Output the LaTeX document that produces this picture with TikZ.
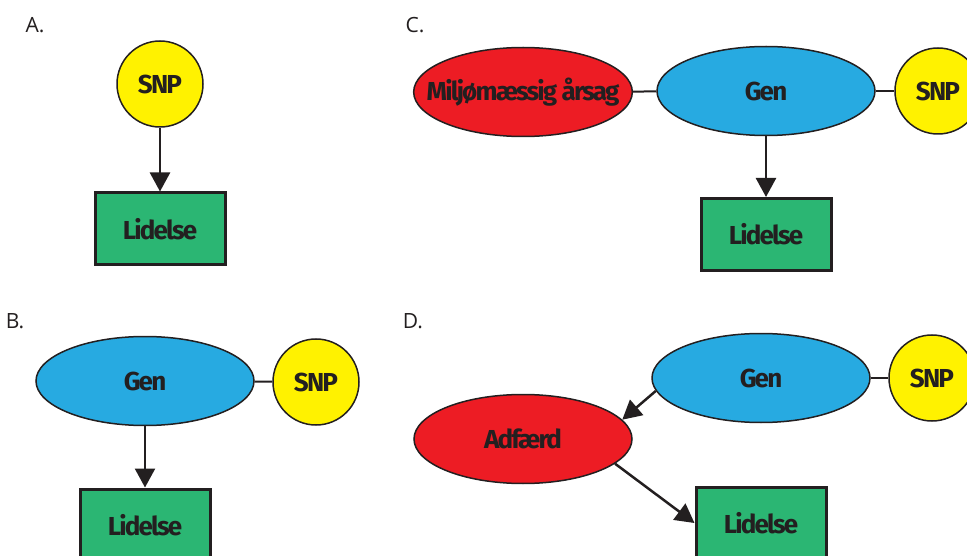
\documentclass[tikz,border=0pt]{standalone}
\usepackage{fontspec}
\usetikzlibrary{shapes.geometric, arrows.meta}
\newfontfamily\boxfont{Fira Sans}[LetterSpace=-7]
\newfontfamily\panelfont{Open Sans}
\definecolor{inkc}{HTML}{231F20}
\definecolor{snpyellow}{HTML}{FFF200}
\definecolor{genblue}{HTML}{27AAE1}
\definecolor{envred}{HTML}{ED1C24}
\definecolor{disgreen}{HTML}{2BB673}
\begin{document}
\begin{tikzpicture}[x=1pt, y=-1pt,
  every node/.style={text=inkc, font=\boxfont\bfseries\fontsize{26}{30}\selectfont},
  snpnode/.style={circle, draw=inkc, line width=1.5pt, fill=snpyellow, minimum size=86pt, inner sep=0pt},
  gennode/.style={ellipse, draw=inkc, line width=1.5pt, fill=genblue, minimum width=218pt, minimum height=89pt, inner sep=0pt},
  envnode/.style={gennode, fill=envred},
  disbox/.style={rectangle, draw=inkc, line width=3pt, fill=disgreen, minimum width=130pt, minimum height=72pt},
  causal/.style={draw=inkc, line width=2.5pt, -{Triangle[width=20pt, length=19pt]}},
  assoc/.style={draw=inkc, line width=2pt},
  panel/.style={font=\panelfont\fontsize{21}{24}\selectfont}]
\useasboundingbox (0,0) rectangle (967,556);

% A.
\node[panel] (labA) at (35,25) {A.};
\node[snpnode] (snpA) at (160,84) {SNP};
\node[disbox] (disA) at (160,229) {Lidelse};
\draw[causal] (snpA) -- (disA);

% B.
\node[panel] (labB) at (15,321) {B.};
\node[gennode] (genB) at (145,381) {Gen};
\node[snpnode] (snpB) at (316,382) {SNP};
\node[disbox] (disB) at (145,525) {Lidelse};
\draw[assoc] (genB) -- (snpB);
\draw[causal] (genB) -- (disB);

% C.
\node[panel] (labC) at (415,25) {C.};
\node[envnode, inner xsep=-19pt] (envC) at (523,92) {Miljømæssig årsag};
\node[gennode] (genC) at (766,91) {Gen};
\node[snpnode] (snpC) at (938,91) {SNP};
\node[disbox] (disC) at (766,234.5) {Lidelse};
\draw[assoc] (envC) -- (genC);
\draw[assoc] (genC) -- (snpC);
\draw[causal] (genC) -- (disC);

% D.
\node[panel] (labD) at (413,321) {D.};
\node[gennode] (genD) at (761,378) {Gen};
\node[snpnode] (snpD) at (932,378) {SNP};
\node[envnode] (behD) at (523,439) {Adfærd};
\node[disbox] (disD) at (761,523) {Lidelse};
\draw[assoc] (genD) -- (snpD);
\draw[causal] (genD.187) -- (behD.11);
\draw[causal] (behD.-15) -- (disD.west);
\end{tikzpicture}
\end{document}
